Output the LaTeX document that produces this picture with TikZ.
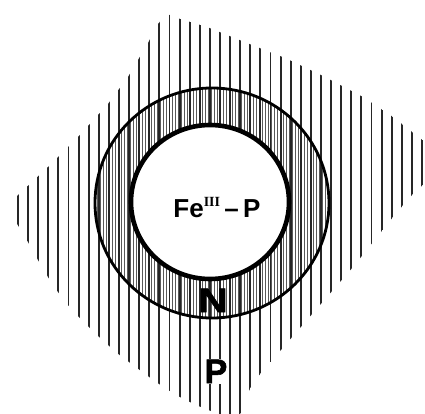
\documentclass[tikz,border=0pt]{standalone}
\usepackage{fontspec}
\setmainfont{Liberation Sans}
\newfontfamily\heavyfont{Liberation Sans}[BoldFeatures={FakeBold=1.8}]
\newfontfamily\numfont{Liberation Serif}
\usetikzlibrary{positioning}

\begin{document}
\begin{tikzpicture}[
  x=1pt, y=-1pt,
  hatch/.style={line width=1.9pt, black!85},
  finehatch/.style={line width=1.0pt, black!65},
  ringedge/.style={draw, line width=2.8pt},
  coreedge/.style={draw, line width=4.6pt, fill=white},
  label/.style={font=\fontsize{26}{30}\selectfont\bfseries, inner sep=0pt},
  biglabel/.style={font=\fontsize{34}{38}\selectfont\heavyfont\bfseries, inner sep=0pt},
]
\useasboundingbox (0,0) rectangle (425,414);

% coarse hatching of the outer region
\begin{scope}
  \clip (16,197) -- (48,167) -- (78,137) -- (108,104) -- (128,77) -- (138,60)
    -- (148,43) -- (157,25) -- (167,14) -- (177,18) -- (207,27) -- (247,43)
    -- (285,58) -- (325,77) -- (363,97) -- (393,117) -- (425,142) -- (425,183)
    -- (412,195) -- (393,217) -- (373,242) -- (353,267) -- (333,290) -- (313,313)
    -- (293,336) -- (274,358) -- (255,380) -- (245,398) -- (240,416) -- (222,416)
    -- (216,413) -- (196,405) -- (176,395) -- (156,382) -- (137,368) -- (117,353)
    -- (97,335) -- (87,325) -- (78,316) -- (68,305) -- (58,292) -- (48,277)
    -- (38,260) -- (28,242) -- (16,222) -- cycle;
  \foreach \k in {0,...,40}
    \draw[hatch] ({18+10.1*\k},0) -- ({18+10.1*\k},414);
\end{scope}

% fine hatching of the ring
\begin{scope}
  \clip (212,203) ellipse [x radius=117, y radius=115];
  \foreach \k in {0,...,80}
    \draw[finehatch] ({94+3*\k},80) -- ({94+3*\k},325);
  \foreach \k in {8,...,31}
    \draw[hatch] ({18+10.1*\k},80) -- ({18+10.1*\k},325);
\end{scope}
\draw[ringedge] (212,203) ellipse [x radius=117, y radius=115];

% white core
\draw[coreedge] (210,202) ellipse [x radius=79, y radius=77];

% labels
\node[label, anchor=base] (core) at (217,217)
  {Fe\raisebox{11pt}{\fontsize{14}{16}\selectfont\numfont\bfseries III}\,--\,P};
\node[biglabel, anchor=base] (ringlbl) at (213,312) {\scalebox{1.2}[1]{N}};
\node[biglabel, anchor=base, fill=white, inner sep=1pt] (outlbl) at (216,383) {P};

\end{tikzpicture}
\end{document}
